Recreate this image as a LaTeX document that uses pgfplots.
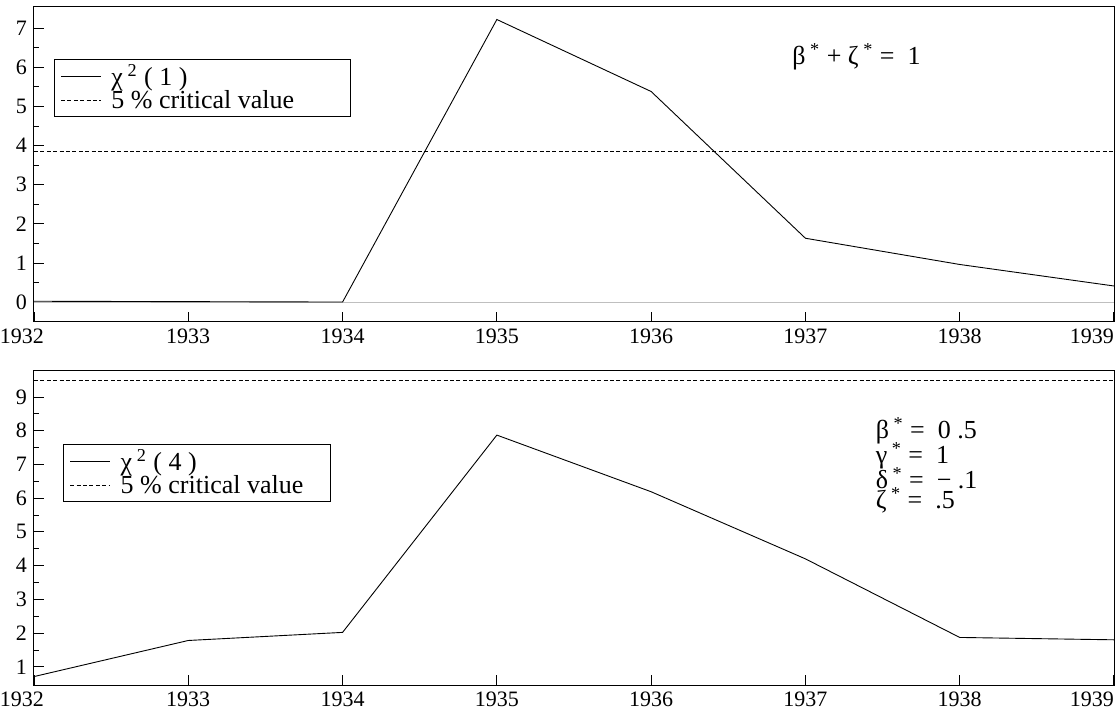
\documentclass[border=0pt]{standalone}
\usepackage{fontspec}
\setmainfont{Liberation Serif}
\usepackage{pgfplots}
\pgfplotsset{compat=1.18}
\begin{document}
\begin{tikzpicture}
\pgfplotsset{
  common/.style={
    scale only axis, width=540pt, height=157.5pt,
    xmin=1932, xmax=1939,
    xtick={1932,...,1939},
    xticklabels={\hbox{1932\kern12pt},1933,1934,1935,1936,1937,1938,\makebox[0pt][r]{1939}},
    xticklabel style={inner xsep=0pt},
    xtick pos=bottom, ytick pos=left,
    tick align=inside,
    major tick length=5pt, minor tick length=2.5pt,
    minor y tick num=1,
    tick label style={font=\fontsize{11}{12}\selectfont},
    /pgf/number format/assume math mode=true,
    axis line style={line width=0.5pt},
    every tick/.style={black, line width=0.4pt},
    legend cell align=left,
    legend style={draw=black, line width=0.5pt, font=\fontsize{13}{13}\selectfont, inner xsep=3pt, inner ysep=0.5pt, row sep=-3pt, legend columns=1, anchor=north west},
    legend image code/.code={\draw[##1] (0cm,0cm) -- (20pt,0cm);},
  }
}
\begin{axis}[common, name=topax, at={(0,0)}, anchor=south west,
  ymin=-0.51, ymax=7.54, ytick={0,...,7},
  legend style={at={(axis cs:1932.13,6.21)}}]
\addplot[gray!50, line width=0.5pt, forget plot] coordinates {(1932,0) (1939,0)};
\addplot[black, line width=0.45pt] coordinates {
(1932,0.02) (1933,0.01) (1934,0.0) (1935,7.22) (1936,5.38) (1937,1.63) (1938,0.96) (1939,0.41)};
\addlegendentry{\makebox[117.5pt][l]{\hspace*{3pt}χ\textsuperscript{ 2} ( 1 )}}
\addplot[black, dash pattern=on 2pt off 1.2pt, line width=0.45pt] coordinates {(1932,3.84) (1939,3.84)};
\addlegendentry{\hspace*{3pt}5 \% critical value}
\node[anchor=west, font=\fontsize{13}{13}\selectfont] at (axis cs:1936.87,6.27) {β\textsuperscript{ *} + ζ\textsuperscript{ *} = \ 1};
\end{axis}
\path ([yshift=3.5pt, xshift=0.5pt]topax.north east);
\begin{axis}[common, at={(0,-181.5pt)}, anchor=south west,
  ymin=0.46, ymax=9.8, ytick={1,...,9},
  legend style={at={(axis cs:1932.19,7.61)}}]
\addplot[black, line width=0.45pt] coordinates {
(1932,0.71) (1933,1.78) (1934,2.02) (1935,7.87) (1936,6.19) (1937,4.2) (1938,1.87) (1939,1.8)};
\addlegendentry{\makebox[103pt][l]{\hspace*{3pt}χ\textsuperscript{ 2} ( 4 )}}
\addplot[black, dash pattern=on 2pt off 1.2pt, line width=0.45pt] coordinates {(1932,9.49) (1939,9.49)};
\addlegendentry{\hspace*{3pt}5 \% critical value}
\node[anchor=north west, align=left, font=\fontsize{13}{11.5}\selectfont] at (axis cs:1937.41,8.6) {β\textsuperscript{ *} = \ 0 .5\\[-1.5pt]γ\textsuperscript{ *} = \ 1\\[-1.5pt]δ\textsuperscript{ *} = \ − .1\\[-1.5pt]ζ\textsuperscript{ *} = \ .5};
\end{axis}
\end{tikzpicture}
\end{document}
